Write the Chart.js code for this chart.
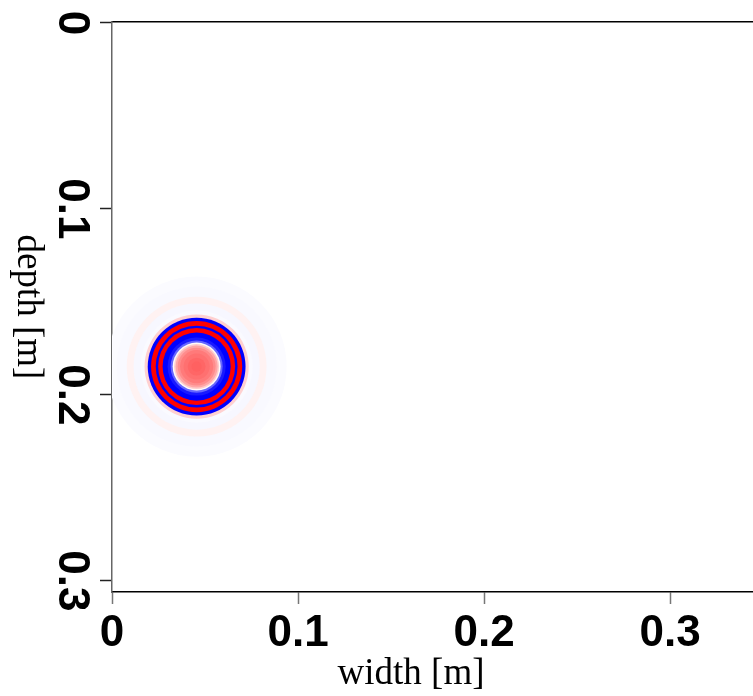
<!DOCTYPE html>
<html>
<head>
  <title>Wavefield snapshot</title>
  <script src="https://cdn.jsdelivr.net/npm/chart.js@4.4.0/dist/chart.umd.min.js"></script>
  <style>
    body{margin:0;background:#fff;}
    #myCanvas{display:block;}
  </style>
</head>
<body>
<canvas id="myCanvas" width="753" height="696"></canvas>
<script>
  //---------------------------data------------------------------------
  // source position [m]
  var srcX = 0.0455;
  var srcY = 0.1848;

  // outer radius of each ring [m], drawn from outside to inside
  var ringRadius = [0.0484, 0.0430, 0.0376, 0.0339, 0.0301, 0.0280, 0.0263, 0.0245,
                    0.0220, 0.0207, 0.0183, 0.0156, 0.0140, 0.0129, 0.0121, 0.0113,
                    0.0102, 0.0089, 0.0070, 0.0048, 0.0027];
  // amplitude of each ring (-1 = blue, 0 = white, 1 = red)
  var ringAmp = [-0.015, -0.025, 0.05, -0.03, -0.02, 0.18, -1, 1,
                 -1, 1, -1, -0.9, -0.6, 0.02, 0.2, 0.35,
                 0.45, 0.52, 0.56, 0.6, 0.62];

  var xTicks = [0, 0.1, 0.2, 0.3];
  var xTickLabels = ['0', '0.1', '0.2', '0.3'];
  var yTicks = [0, 0.1, 0.2, 0.3];
  var yTickLabels = ['0', '0.1', '0.2', '0.3'];

  var xTitle = 'width [m]';
  var yTitle = 'depth [m]';
  //-------------------------------------------------------------------

  function ampColor(a) {
    if (a >= 0) {
      var g = Math.round(255 * (1 - a));
      return 'rgb(255,' + g + ',' + g + ')';
    }
    var c = Math.round(255 * (1 + a));
    return 'rgb(' + c + ',' + c + ',255)';
  }

  var tickFont = {family: '"Liberation Sans", Arial, Helvetica, sans-serif', size: 44, weight: 'bold', lineHeight: 1.0};

  // axis titles (y one reads top to bottom)
  var axisTitles = {
    id: 'axisTitles',
    afterDraw: function(chart) {
      var a = chart.chartArea;
      var c = chart.ctx;
      c.save();
      c.fillStyle = '#000';
      c.font = '37px "Liberation Serif", "Times New Roman", serif';
      c.textAlign = 'center';
      c.textBaseline = 'alphabetic';
      c.fillText(xTitle, 411, 684);
      c.translate(28, (a.top + a.bottom) / 2);
      c.rotate(Math.PI / 2);
      c.textBaseline = 'middle';
      c.fillText(yTitle, 0, 0);
      c.restore();
    }
  };

  var chart = new Chart(document.getElementById('myCanvas'), {
    type: 'scatter',
    data: {
      datasets: [{
        data: ringRadius.map(function() { return {x: srcX, y: srcY}; }),
        pointRadius: function(ctx) {
          if (ctx.dataIndex === undefined) return 0;
          var s = ctx.chart.scales.x;
          return Math.abs(s.getPixelForValue(srcX + ringRadius[ctx.dataIndex]) - s.getPixelForValue(srcX));
        },
        pointBackgroundColor: function(ctx) {
          return ampColor(ringAmp[ctx.dataIndex] || 0);
        },
        pointBorderWidth: 0,
        pointHoverRadius: function(ctx) { return 0; }
      }]
    },
    plugins: [axisTitles],
    options: {
      responsive: false,
      animation: false,
      events: [],
      devicePixelRatio: 1,
      layout: {padding: {top: 22, left: 0, right: 0, bottom: 0}},
      plugins: {legend: {display: false}, tooltip: {enabled: false}},
      scales: {
        x: {
          type: 'linear',
          position: 'bottom',
          min: 0,
          max: 0.3446,
          afterBuildTicks: function(s) { s.ticks = xTicks.map(function(v) { return {value: v}; }); },
          afterFit: function(s) { s.height = 104; s.paddingLeft = 0; s.paddingRight = 0; },
          ticks: {
            autoSkip: false, minRotation: 0, maxRotation: 0, padding: 8, color: '#000', font: tickFont,
            callback: function(v, i) { return xTickLabels[i]; }
          },
          grid: {drawOnChartArea: false, drawTicks: true, tickLength: 12, tickColor: '#777', tickWidth: 1.5},
          border: {display: true, color: '#000', width: 1.5}
        },
        xTop: {
          type: 'linear',
          position: 'top',
          display: true,
          min: 0,
          max: 0.3446,
          afterFit: function(s) { s.height = 0; s.paddingLeft = 0; s.paddingRight = 0; },
          ticks: {display: false},
          grid: {drawOnChartArea: false, drawTicks: false},
          border: {display: true, color: '#000', width: 1.5}
        },
        y: {
          type: 'linear',
          position: 'left',
          reverse: true,
          min: -0.0005,
          max: 0.306,
          afterBuildTicks: function(s) { s.ticks = yTicks.map(function(v) { return {value: v}; }); },
          afterFit: function(s) { s.width = 112; s.paddingTop = 0; s.paddingBottom = 0; },
          ticks: {
            autoSkip: false, minRotation: -90, maxRotation: -90, crossAlign: 'center', padding: -2,
            color: '#000', font: tickFont,
            callback: function(v, i) { return yTickLabels[i]; }
          },
          grid: {drawOnChartArea: false, drawTicks: true, tickLength: 12, tickColor: '#222', tickWidth: 1.5},
          border: {display: true, color: '#666', width: 1.5}
        }
      }
    }
  });
</script>
</body>
</html>
